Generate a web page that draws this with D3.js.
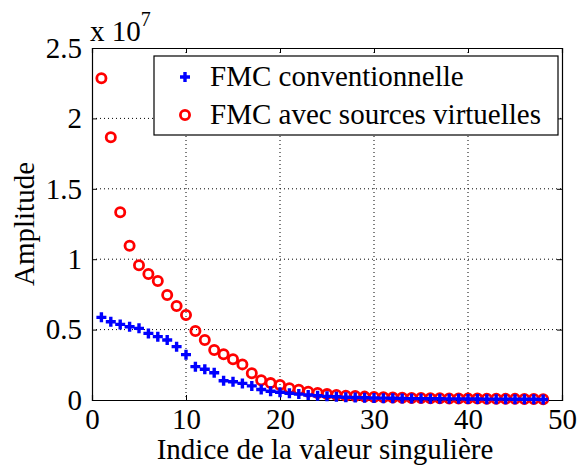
<!DOCTYPE html>
<html><head><meta charset="utf-8">
<script src="https://cdn.jsdelivr.net/npm/d3@7"></script>
</head><body style="margin:0">
<script>
const seriesNames = ["FMC conventionnelle", "FMC avec sources virtuelles"];
const xTicks = [0, 10, 20, 30, 40, 50];
const yTicks = [0, 0.5, 1, 1.5, 2, 2.5];
const yTickLabels = ["0", "0.5", "1", "1.5", "2", "2.5"];
// values in units of 1e7
const conventional = [0.587,0.556,0.537,0.52,0.509,0.473,0.45,0.426,0.379,0.322,0.237,0.218,0.194,0.137,0.13,0.118,0.1,0.075,0.062,0.055,0.048,0.042,0.036,0.03,0.026,0.023,0.02,0.018,0.016,0.014,0.013,0.012,0.011,0.010,0.010,0.009,0.009,0.008,0.008,0.007,0.007,0.006,0.006,0.006,0.005,0.005,0.005,0.004];
const virtualSources = [2.285,1.866,1.333,1.096,0.957,0.895,0.845,0.746,0.668,0.604,0.49,0.426,0.355,0.325,0.289,0.253,0.19,0.14,0.12,0.107,0.083,0.073,0.059,0.05,0.042,0.036,0.031,0.028,0.024,0.021,0.019,0.017,0.016,0.015,0.014,0.013,0.012,0.011,0.011,0.010,0.010,0.009,0.009,0.008,0.008,0.007,0.007,0.006];

(function () {
const W = 580, H = 467;
const L = 92, R = 562, T = 48, B = 400;
const FF = "Liberation Serif";
const svg = d3.select("body").append("svg").attr("width", W).attr("height", H)
  .style("display", "block").style("font-family", FF).style("font-size", "29px");
const x = d3.scaleLinear().domain([0, 50]).range([L, R]);
const y = d3.scaleLinear().domain([0, 2.5]).range([B, T]);

// grid
const g = svg.append("g");
g.selectAll(".gx").data(xTicks.filter(d => d > 0 && d < 50)).enter().append("line")
  .attr("x1", d => x(d)).attr("x2", d => x(d)).attr("y1", T).attr("y2", B)
  .attr("stroke", "#000").attr("stroke-width", 1).attr("stroke-dasharray", "1,3");
g.selectAll(".gy").data(yTicks.filter(d => d > 0 && d < 2.5)).enter().append("line")
  .attr("y1", d => y(d)).attr("y2", d => y(d)).attr("x1", L).attr("x2", R)
  .attr("stroke", "#000").attr("stroke-width", 1).attr("stroke-dasharray", "1,3");

// axes (ticks inward)
const ax = svg.append("g");
const axB = ax.append("g").attr("transform", `translate(0,${B})`)
  .call(d3.axisBottom(x).tickValues(xTicks).tickSize(-5).tickPadding(10).tickFormat(d3.format("d")));
ax.append("g").attr("transform", `translate(0,${T})`)
  .call(d3.axisTop(x).tickValues(xTicks).tickSize(-5).tickFormat(""));
ax.append("g").attr("transform", `translate(${L},0)`)
  .call(d3.axisLeft(y).tickValues(yTicks).tickSize(-5).tickPadding(10).tickFormat((d, i) => yTickLabels[i]));
ax.append("g").attr("transform", `translate(${R},0)`)
  .call(d3.axisRight(y).tickValues(yTicks).tickSize(-5).tickFormat(""));
ax.selectAll("g").attr("font-family", null).attr("font-size", null);
ax.selectAll(".domain").attr("stroke", "#000").attr("stroke-width", 1.2);
ax.selectAll(".tick line").attr("stroke", "#000");
ax.selectAll("text").attr("fill", "#000").style("font-family", FF).style("font-size", "29px");
axB.selectAll("text").attr("dy", "0.66em");

function txt(sel) { return sel.style("font-family", FF).style("font-size", "29px").attr("fill", "#000"); }

// exponent
const ex = txt(svg.append("text").attr("x", 90).attr("y", 41));
ex.append("tspan").text("x 10");
ex.append("tspan").attr("dy", -15).style("font-size", "20px").text("7");

// labels
txt(svg.append("text").attr("x", (L + R) / 2 - 2).attr("y", 459).attr("text-anchor", "middle"))
  .text("Indice de la valeur singulière");
txt(svg.append("text").attr("transform", `translate(34,${(T + B) / 2}) rotate(-90)`).attr("text-anchor", "middle"))
  .text("Amplitude");

// markers
const idx = d3.range(1, virtualSources.length + 1);
function crossPath(cx, cy, s) { return `M${cx - s},${cy}H${cx + s}M${cx},${cy - s}V${cy + s}`; }
const plot = svg.append("g");
plot.selectAll(".red").data(virtualSources).enter().append("circle")
  .attr("cx", (d, i) => x(idx[i])).attr("cy", d => y(d)).attr("r", 4.6)
  .attr("fill", "none").attr("stroke", "#ff0000").attr("stroke-width", 2.8);
plot.selectAll(".blue").data(conventional).enter().append("path")
  .attr("d", (d, i) => crossPath(x(idx[i]), y(d), 5))
  .attr("stroke", "#0000ff").attr("stroke-width", 3.4).attr("fill", "none");

// legend
const lg = svg.append("g");
lg.append("rect").attr("x", 154).attr("y", 56).attr("width", 404).attr("height", 79)
  .attr("fill", "#fff").attr("stroke", "#000").attr("stroke-width", 1.2);
lg.append("path").attr("d", crossPath(185, 77, 5)).attr("stroke", "#0000ff").attr("stroke-width", 3.4);
lg.append("circle").attr("cx", 185).attr("cy", 115).attr("r", 4.6).attr("fill", "none")
  .attr("stroke", "#ff0000").attr("stroke-width", 2.8);
txt(lg.append("text").attr("x", 210).attr("y", 86)).text(seriesNames[0]);
txt(lg.append("text").attr("x", 210).attr("y", 124)).text(seriesNames[1]);
})();
</script>
</body></html>
